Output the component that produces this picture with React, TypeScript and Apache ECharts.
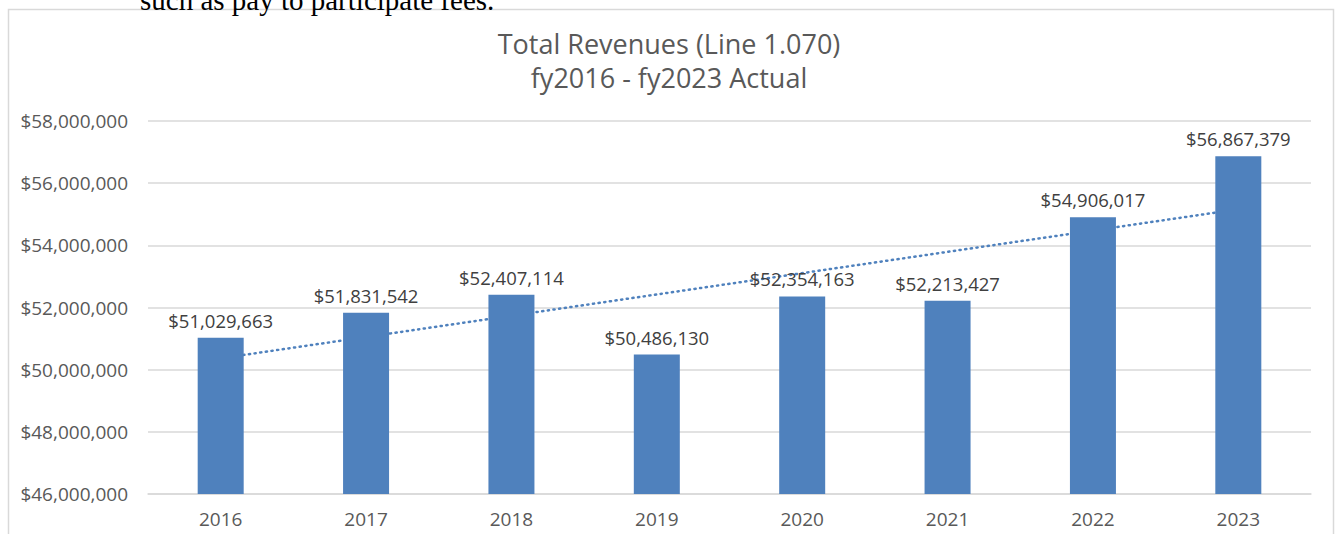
import React, { useEffect, useRef } from "react";
import * as echarts from "echarts";

const categories = ["2016", "2017", "2018", "2019", "2020", "2021", "2022", "2023"];
const revenues = [51029663, 51831542, 52407114, 50486130, 52354163, 52213427, 54906017, 56867379];
// linear trendline values
const trendValues = [50365000, 51050000, 51735000, 52420000, 53105000, 53790000, 54475000, 55160000];
const titleLines = ["Total Revenues (Line 1.070)", "fy2016 - fy2023 Actual"];
const docText = "such as pay to participate fees.";

const fmt = (v: number) => "$" + Math.round(v).toLocaleString("en-US");

export default function App() {
  const ref = useRef<HTMLDivElement>(null);
  useEffect(() => {
    if (!ref.current) return;
    const chart = echarts.init(ref.current, null, { renderer: "svg" });
    const font = "'Open Sans', sans-serif";
    chart.setOption({
      animation: false,
      backgroundColor: "#ffffff",
      title: {
        text: titleLines.join("\n"),
        left: 664,
        top: 21,
        textAlign: "center",
        textStyle: {
          fontFamily: font,
          fontSize: 27,
          fontWeight: "normal",
          color: "#595959",
          lineHeight: 34,
        },
      },
      graphic: [
        {
          type: "rect",
          z: -10,
          shape: { x: 8.5, y: 9.5, width: 1325, height: 540 },
          style: { fill: "none", stroke: "#d9d9d9", lineWidth: 1.5 },
        },
        {
          type: "text",
          x: 140,
          y: -15,
          style: {
            text: docText,
            font: "29px 'Liberation Serif', serif",
            fill: "#000000",
          },
        },
      ],
      grid: { left: 148, right: 25, top: 121, bottom: 40 },
      xAxis: {
        type: "category",
        data: categories,
        axisLine: { show: true, lineStyle: { color: "#d9d9d9", width: 1.5 } },
        axisTick: { show: false },
        axisLabel: { fontFamily: font, fontSize: 19, color: "#595959", margin: 15 },
      },
      yAxis: {
        type: "value",
        min: 46000000,
        max: 58000000,
        interval: 2000000,
        axisLine: { show: false },
        axisTick: { show: false },
        splitLine: { lineStyle: { color: "#d9d9d9", width: 1.5 } },
        axisLabel: {
          fontFamily: font,
          fontSize: 19,
          color: "#595959",
          margin: 20,
          formatter: (v: number) => fmt(v),
        },
      },
      series: [
        {
          type: "line",
          data: trendValues,
          z: 1,
          symbol: "none",
          silent: true,
          lineStyle: { color: "#4f81bd", width: 2.5, type: [1.2, 4.5], cap: "round" },
        },
        {
          type: "bar",
          data: revenues,
          z: 2,
          barWidth: 46,
          itemStyle: { color: "#4f81bd" },
          label: {
            show: true,
            position: "top",
            distance: 8,
            fontFamily: font,
            fontSize: 18.5,
            color: "#404040",
            formatter: (p: any) => fmt(p.value),
          },
        },
      ],
    });
    return () => chart.dispose();
  }, []);
  return (
    <div
      ref={ref}
      style={{ position: "fixed", left: 0, top: 0, width: 1336, height: 534 }}
    />
  );
}
